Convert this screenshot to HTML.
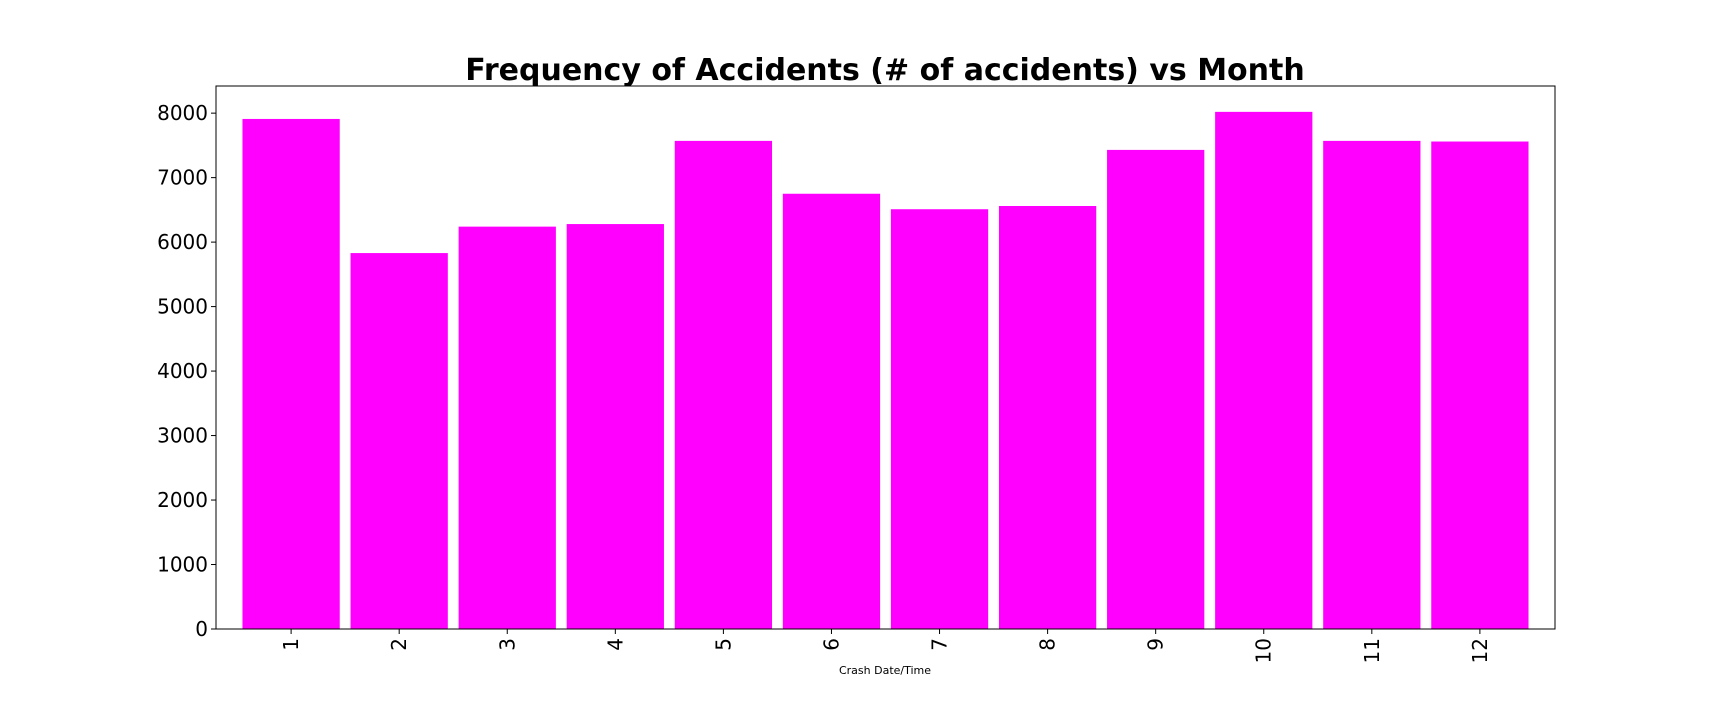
<!DOCTYPE html>
<html><head><meta charset="utf-8"><style>body{margin:0;background:#fff}svg{display:block;font-family:"DejaVu Sans","Liberation Sans",sans-serif}</style></head>
<body>
<svg id="chart" width="1728" height="720">
<text x="885" y="80" text-anchor="middle" font-size="30" font-weight="bold">Frequency of Accidents (# of accidents) vs Month</text>
<text x="885" y="674" text-anchor="middle" font-size="11">Crash Date/Time</text>
<g id="bars"></g><g id="axes"></g>
</svg>
<script>
const categories=["1","2","3","4","5","6","7","8","9","10","11","12"];
const values=[7910,5830,6240,6280,7570,6750,6510,6560,7430,8020,7570,7560];
const yTicks=[0,1000,2000,3000,4000,5000,6000,7000,8000];
const L=216,R=1555,T=86,B=629,ymax=8421,xmin=-0.695,xmax=11.695;
const ns="http://www.w3.org/2000/svg";
const xs=i=>L+(i-xmin)/(xmax-xmin)*(R-L);
const ys=v=>B-v/ymax*(B-T);
const bars=document.getElementById('bars'),axes=document.getElementById('axes');
function mk(tag,attrs,parent){const e=document.createElementNS(ns,tag);for(const k in attrs)e.setAttribute(k,attrs[k]);parent.appendChild(e);return e;}
values.forEach((v,i)=>{
 const r=mk('rect',{x:xs(i-0.45),y:ys(v),width:xs(0.45)-xs(-0.45),height:B-ys(v),fill:'#ff00ff'},bars);
 
 
 const t=mk('line',{x1:xs(i),x2:xs(i),y1:B,y2:B+5,stroke:'#000'},axes);
 const lb=mk('text',{x:0,y:0,'font-size':20,'text-anchor':'end',transform:`translate(${xs(i)+7},${B+9}) rotate(-90)`},axes);
 lb.textContent=categories[i];
 
 
});
yTicks.forEach(v=>{
 mk('line',{x1:L-5,x2:L,y1:ys(v),y2:ys(v),stroke:'#000'},axes);
 const lb=mk('text',{x:L-8,y:ys(v)+7,'font-size':20,'text-anchor':'end'},axes);
 lb.textContent=v;
 
 
});
const f=mk('rect',{x:L,y:T,width:R-L,height:B-T,fill:'none',stroke:'#000','stroke-width':1},axes);


</script>
</body></html>
